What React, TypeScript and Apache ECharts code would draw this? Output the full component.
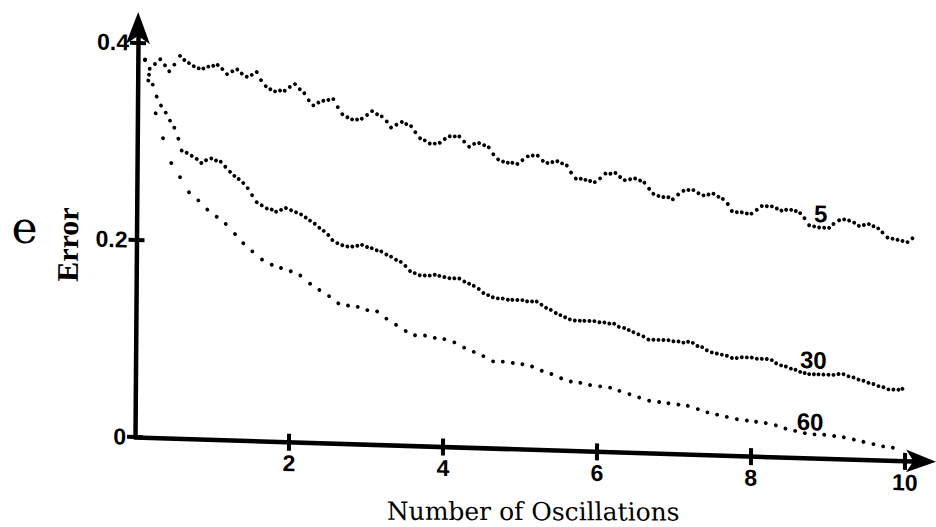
import React, { useEffect, useRef } from "react";
import * as echarts from "echarts";

// Axis ticks
const X_TICKS: number[] = [2, 4, 6, 8, 10];
const Y_TICKS: number[] = [0, 0.2, 0.4];
const X_MAX = 10.208;
const Y_MAX = 0.416;

// Error curves (x = number of oscillations, y = error)
const curve5: [number, number][] = [
  [0.093,0.383],[0.223,0.379],[0.291,0.384],[0.353,0.378],[0.409,0.372],[0.474,0.379],[0.547,0.388],[0.603,0.384],[0.664,0.381],[0.726,0.378],
  [0.791,0.376],[0.851,0.376],[0.915,0.378],[0.980,0.379],[1.037,0.380],[1.098,0.376],[1.159,0.371],[1.228,0.374],[1.292,0.376],[1.350,0.372],
  [1.415,0.369],[1.480,0.371],[1.545,0.374],[1.601,0.366],[1.663,0.360],[1.723,0.357],[1.784,0.355],[1.849,0.356],[1.910,0.356],[1.975,0.360],
  [2.043,0.363],[2.105,0.358],[2.165,0.354],[2.223,0.347],[2.283,0.342],[2.348,0.345],[2.412,0.347],[2.477,0.348],[2.542,0.349],[2.600,0.341],
  [2.660,0.334],[2.726,0.331],[2.787,0.329],[2.852,0.329],[2.913,0.330],[2.981,0.334],[3.046,0.338],[3.111,0.335],[3.172,0.333],[3.238,0.328],
  [3.294,0.322],[3.363,0.325],[3.433,0.328],[3.492,0.326],[3.554,0.324],[3.610,0.318],[3.672,0.312],[3.733,0.310],[3.798,0.307],[3.863,0.307],
  [3.928,0.308],[3.993,0.312],[4.057,0.315],[4.122,0.315],[4.182,0.315],[4.244,0.310],[4.309,0.305],[4.374,0.308],[4.439,0.309],[4.504,0.307],
  [4.565,0.305],[4.625,0.298],[4.687,0.293],[4.752,0.291],[4.813,0.290],[4.873,0.290],[4.938,0.289],[5.003,0.293],[5.072,0.297],[5.137,0.298],
  [5.202,0.298],[5.268,0.293],[5.328,0.291],[5.392,0.292],[5.457,0.293],[5.518,0.291],[5.580,0.289],[5.636,0.282],[5.698,0.276],[5.763,0.276],
  [5.823,0.275],[5.884,0.274],[5.945,0.273],[6.013,0.277],[6.082,0.282],[6.147,0.282],[6.212,0.283],[6.273,0.279],[6.334,0.276],[6.403,0.277],
  [6.468,0.278],[6.533,0.276],[6.589,0.274],[6.651,0.268],[6.707,0.263],[6.772,0.261],[6.837,0.260],[6.902,0.260],[6.960,0.258],[7.028,0.263],
  [7.097,0.267],[7.161,0.268],[7.226,0.268],[7.292,0.265],[7.357,0.263],[7.422,0.264],[7.487,0.265],[7.552,0.262],[7.609,0.260],[7.674,0.255],
  [7.727,0.248],[7.792,0.247],[7.857,0.247],[7.922,0.246],[7.982,0.246],[8.051,0.250],[8.116,0.254],[8.181,0.254],[8.246,0.254],[8.311,0.252],
  [8.371,0.250],[8.432,0.251],[8.497,0.251],[8.558,0.250],[8.614,0.248],[8.671,0.243],[8.732,0.236],[8.797,0.235],[8.862,0.234],[8.927,0.234],
  [8.992,0.234],[9.048,0.238],[9.121,0.242],[9.186,0.243],[9.251,0.242],[9.317,0.240],[9.378,0.237],[9.443,0.238],[9.508,0.239],[9.568,0.237],
  [9.629,0.235],[9.685,0.231],[9.750,0.226],[9.816,0.225],[9.881,0.224],[9.946,0.223],[10.011,0.222],[10.075,0.226]
];

const curve30: [number, number][] = [
  [0.093,0.383],[0.155,0.374],[0.195,0.358],[0.248,0.346],[0.305,0.337],[0.367,0.330],[0.423,0.322],[0.480,0.315],[0.533,0.304],[0.578,0.292],
  [0.643,0.290],[0.709,0.287],[0.774,0.284],[0.834,0.280],[0.895,0.283],[0.963,0.285],[1.025,0.283],[1.086,0.282],[1.146,0.277],[1.208,0.272],
  [1.264,0.268],[1.321,0.265],[1.381,0.261],[1.439,0.256],[1.496,0.249],[1.557,0.242],[1.623,0.239],[1.688,0.236],[1.753,0.235],[1.809,0.233],
  [1.874,0.235],[1.938,0.237],[2.004,0.235],[2.069,0.233],[2.134,0.231],[2.195,0.228],[2.251,0.225],[2.313,0.222],[2.373,0.218],[2.430,0.215],
  [2.490,0.211],[2.543,0.206],[2.608,0.203],[2.673,0.201],[2.738,0.200],[2.803,0.200],[2.868,0.201],[2.929,0.202],[2.994,0.200],[3.055,0.199],
  [3.120,0.197],[3.180,0.196],[3.246,0.193],[3.307,0.191],[3.372,0.188],[3.433,0.186],[3.494,0.182],[3.555,0.177],[3.616,0.175],[3.681,0.173],
  [3.746,0.173],[3.811,0.173],[3.876,0.174],[3.936,0.173],[4.001,0.172],[4.066,0.171],[4.131,0.171],[4.196,0.171],[4.261,0.168],[4.323,0.166],
  [4.384,0.164],[4.449,0.161],[4.509,0.157],[4.571,0.155],[4.632,0.153],[4.697,0.152],[4.762,0.152],[4.827,0.151],[4.886,0.151],[4.951,0.151],
  [5.016,0.151],[5.078,0.150],[5.142,0.150],[5.203,0.150],[5.264,0.147],[5.325,0.144],[5.386,0.142],[5.451,0.139],[5.511,0.137],[5.573,0.135],
  [5.634,0.133],[5.699,0.132],[5.764,0.132],[5.824,0.132],[5.889,0.132],[5.953,0.132],[6.019,0.131],[6.083,0.131],[6.148,0.130],[6.210,0.130],
  [6.271,0.127],[6.340,0.126],[6.401,0.124],[6.461,0.122],[6.526,0.120],[6.591,0.118],[6.657,0.115],[6.722,0.115],[6.787,0.115],[6.852,0.115],
  [6.917,0.115],[6.982,0.114],[7.047,0.114],[7.111,0.113],[7.172,0.114],[7.234,0.113],[7.294,0.110],[7.355,0.109],[7.416,0.106],[7.481,0.104],
  [7.546,0.103],[7.611,0.102],[7.677,0.101],[7.742,0.099],[7.806,0.099],[7.871,0.100],[7.936,0.100],[8.001,0.100],[8.066,0.099],[8.131,0.099],
  [8.196,0.099],[8.261,0.098],[8.317,0.095],[8.382,0.093],[8.444,0.092],[8.509,0.090],[8.569,0.089],[8.630,0.087],[8.689,0.086],[8.747,0.085],
  [8.809,0.085],[8.868,0.085],[8.933,0.085],[8.998,0.085],[9.063,0.085],[9.128,0.086],[9.193,0.086],[9.258,0.084],[9.323,0.083],[9.388,0.081],
  [9.453,0.080],[9.518,0.078],[9.583,0.077],[9.648,0.075],[9.713,0.074],[9.778,0.072],[9.843,0.072],[9.908,0.072],[9.960,0.073]
];

const curve60: [number, number][] = [
  [0.093,0.383],[0.146,0.368],[0.138,0.362],[0.237,0.329],[0.334,0.304],[0.444,0.279],[0.559,0.265],[0.677,0.250],[0.799,0.242],[0.917,0.233],
  [1.039,0.226],[1.157,0.219],[1.279,0.209],[1.387,0.200],[1.505,0.192],[1.632,0.184],[1.758,0.179],[1.879,0.176],[2.006,0.173],[2.131,0.169],
  [2.258,0.161],[2.379,0.155],[2.506,0.149],[2.627,0.142],[2.753,0.140],[2.879,0.139],[3.004,0.136],[3.131,0.135],[3.252,0.128],[3.379,0.122],
  [3.505,0.116],[3.626,0.112],[3.756,0.112],[3.882,0.110],[4.007,0.109],[4.137,0.106],[4.264,0.101],[4.390,0.097],[4.515,0.093],[4.642,0.088],
  [4.768,0.088],[4.898,0.087],[5.023,0.086],[5.149,0.084],[5.275,0.080],[5.400,0.077],[5.527,0.073],[5.653,0.070],[5.778,0.069],[5.904,0.067],
  [6.034,0.066],[6.164,0.065],[6.285,0.062],[6.415,0.059],[6.542,0.056],[6.672,0.053],[6.802,0.052],[6.923,0.051],[7.053,0.050],[7.175,0.049],
  [7.305,0.046],[7.430,0.043],[7.556,0.041],[7.682,0.039],[7.813,0.037],[7.943,0.036],[8.063,0.035],[8.189,0.034],[8.320,0.032],[8.445,0.029],
  [8.571,0.027],[8.697,0.025],[8.822,0.024],[8.948,0.024],[9.078,0.023],[9.204,0.022],[9.334,0.020],[9.459,0.018],[9.589,0.016],[9.715,0.014],
  [9.841,0.013]
];

// Curve labels: [x, y, text]
const curveLabels: [number, number, string][] = [
  [8.883, 0.248, "5"],
  [8.801, 0.0995, "30"],
  [8.765, 0.0368, "60"]
];

const DOT = "#000000";
const DIGIT_FONT = '"Liberation Sans Narrow", "Liberation Sans", sans-serif';

function dotSeries(name: string, data: [number, number][]) {
  return {
    name,
    type: "scatter",
    data,
    symbol: "circle",
    symbolSize: 3.9,
    itemStyle: { color: DOT, opacity: 1 },
    silent: true,
    z: 3
  };
}

const tickFont = { fontFamily: DIGIT_FONT, fontWeight: "bold", fontSize: 23, color: "#000" };

const option: any = {
  animation: false,
  backgroundColor: "#ffffff",
  grid: { left: 135, right: 15, top: 27, bottom: 90, containLabel: false },
  xAxis: [
    {
      type: "value",
      min: 0,
      max: X_MAX,
      position: "bottom",
      axisLine: {
        show: true,
        lineStyle: { color: "#000", width: 4.5 },
        symbol: ["none", "arrow"],
        symbolSize: [17, 30],
        symbolOffset: [0, 15]
      },
      axisTick: { show: true, length: 9, lineStyle: { color: "#000", width: 4 }, customValues: X_TICKS },
      axisLabel: { ...tickFont, margin: 10, customValues: X_TICKS },
      splitLine: { show: false }
    },
    {
      type: "value",
      min: 0,
      max: X_MAX,
      position: "bottom",
      axisLine: { show: false },
      axisTick: { show: true, inside: true, length: 8, lineStyle: { color: "#000", width: 4 }, customValues: X_TICKS },
      axisLabel: { show: false },
      splitLine: { show: false }
    }
  ],
  yAxis: [
    {
      type: "value",
      min: 0,
      max: Y_MAX,
      position: "left",
      axisLine: {
        show: true,
        lineStyle: { color: "#000", width: 4.5 },
        symbol: ["none", "arrow"],
        symbolSize: [18, 32],
        symbolOffset: [0, 15]
      },
      axisTick: { show: true, length: 8, lineStyle: { color: "#000", width: 4 }, customValues: Y_TICKS },
      axisLabel: { ...tickFont, margin: 9, customValues: Y_TICKS },
      splitLine: { show: false }
    },
    {
      type: "value",
      min: 0,
      max: Y_MAX,
      position: "left",
      axisLine: { show: false },
      axisTick: { show: true, inside: true, length: 8, lineStyle: { color: "#000", width: 4 }, customValues: Y_TICKS },
      axisLabel: { show: false },
      splitLine: { show: false }
    }
  ],
  series: [
    dotSeries("5", curve5),
    dotSeries("30", curve30),
    dotSeries("60", curve60),
    {
      name: "labels",
      type: "scatter",
      data: curveLabels,
      symbolSize: 1,
      itemStyle: { color: "rgba(0,0,0,0)" },
      silent: true,
      z: 4,
      label: {
        show: true,
        position: "inside",
        formatter: (p: any) => p.data[2],
        fontFamily: DIGIT_FONT,
        fontWeight: "bold",
        fontSize: 24,
        color: "#000",
        textBorderWidth: 0,
        opacity: 1
      }
    }
  ],
  graphic: [
    {
      type: "text",
      x: 23,
      y: 231,
      silent: true,
      style: { text: "e", fontFamily: "DejaVu Serif", fontSize: 44, fill: "#000", align: "center", verticalAlign: "middle" }
    },
    {
      type: "text",
      x: 66,
      y: 246.6,
      rotation: Math.PI / 2,
      silent: true,
      style: { text: "Error", fontFamily: "Liberation Serif", fontSize: 30, fontWeight: "bold", fill: "#000", align: "center", verticalAlign: "middle" }
    },
    {
      type: "text",
      x: 533.6,
      y: 499.3,
      rotation: 0.028,
      silent: true,
      style: { text: "Number of Oscillations", fontFamily: "DejaVu Serif", fontSize: 25, fill: "#000", align: "center", verticalAlign: "middle" }
    }
  ]
};

export default function App() {
  const ref = useRef<HTMLDivElement>(null);
  useEffect(() => {
    if (!ref.current) return;
    const chart = echarts.init(ref.current, null, { renderer: "svg", width: 936, height: 527 });
    chart.setOption(option);
    return () => chart.dispose();
  }, []);
  return (
    <div style={{ position: "fixed", left: 0, top: 0, width: 936, height: 527, overflow: "hidden", background: "#fff" }}>
      <div
        ref={ref}
        style={{
          position: "absolute",
          left: 0,
          top: 0,
          width: 936,
          height: 527,
          transformOrigin: "135px 437px",
          transform: "matrix(1, 0.031, -0.0076, 1, 0, 0)"
        }}
      />
    </div>
  );
}
